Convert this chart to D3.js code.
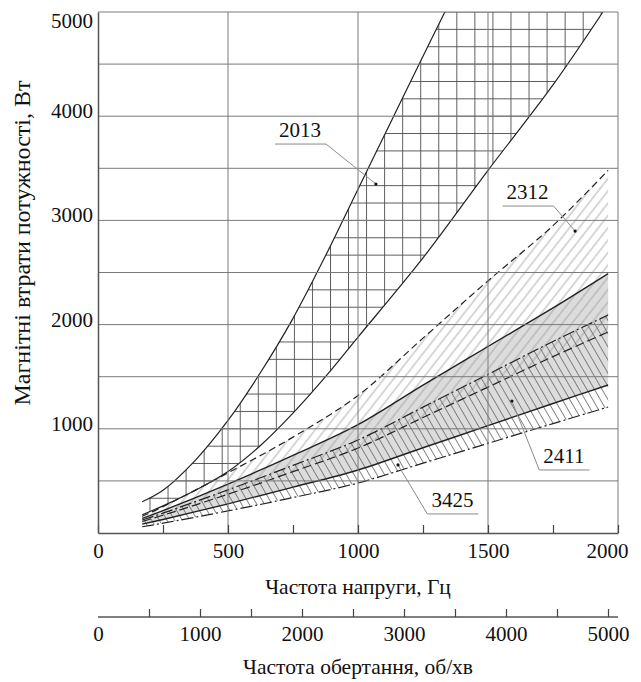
<!DOCTYPE html>
<html><head><meta charset="utf-8">
<script src="https://cdn.jsdelivr.net/npm/d3@7"></script>
<style>body{margin:0;background:#fff} text{font-family:"Liberation Serif","Times New Roman",serif;fill:#111}</style>
</head><body><svg id="c" width="641" height="682"></svg>
<script>
// ---------- data ----------
const freqTicks = [0,500,1000,1500,2000];
const freqMinor = [0,250,500,750,1000,1250,1500,1750,2000];
const rpmTicks = [0,1000,2000,3000,4000,5000];
const rpmMinor = [0,500,1000,1500,2000,2500,3000,3500,4000,4500,5000];
const powerTicks = [1000,2000,3000,4000,5000];
const powerGrid = [500,1000,1500,2000,2500,3000,3500,4000,4500];
const freqGrid = [500,1000,1500];

const s2013Upper = [[170,300],[250,410],[375,700],[500,1080],[625,1540],[750,2060],[875,2660],[1000,3300],[1125,3937],[1250,4575],[1340,5030]];
const s2013Lower = [[170,175],[250,260],[375,410],[500,590],[625,840],[750,1150],[875,1500],[1000,1880],[1250,2640],[1500,3480],[1750,4300],[1942,5000]];
const freq = [170,250,500,750,1000,1250,1500,1750,1962];
const s2312Upper = [160,253,577,920,1320,1870,2420,2950,3480];
const s2312Lower = [110,170,372,589,815,1108,1400,1693,1929];
const s2411Upper = [140,215,470,745,1040,1420,1790,2160,2490];
const s2411Lower = [85,130,280,440,605,818,1030,1243,1420];
const s3425Upper = [125,191,414,649,893,1208,1523,1838,2092];
const s3425Lower = [60,94,212,340,480,670,860,1050,1209];

const labelNames = ["2013","2312","2411","3425"];
const labelAt = [[777,3800],[1652,3205],[1792,672],[1363,250]];
const pointerAt = [[1069,3349],[1835,2898],[1592,1267],[1154,653]];
const leaderSide = ["right","right","left","left"];

// ---------- scales ----------
const x = d3.scaleLinear().domain([0,2000]).range([98,618]);
const y = d3.scaleLinear().domain([0,5000]).range([533,12]);
const xr = d3.scaleLinear().domain([0,5000]).range([98,608]);

const svg = d3.select("#c");
const defs = svg.append("defs");
defs.append("clipPath").attr("id","plot").append("rect")
  .attr("x",x(0)).attr("y",y(5000)).attr("width",x(2000)-x(0)).attr("height",y(0)-y(5000));

// cross hatch for 2013
const gw = 18.05, gh = (y(0)-y(5000))/30;
const pg = defs.append("pattern").attr("id","hatch2013").attr("patternUnits","userSpaceOnUse")
  .attr("x",149.5).attr("y",y(5000)-0.5).attr("width",gw).attr("height",gh);
pg.append("path").attr("d",`M0,0.5H${gw}M0.5,0V${gh}`).attr("stroke","#4a4a4a").attr("stroke-width",0.9).attr("fill","none");

function diag(id, angle, p, color, w){
  const pt = defs.append("pattern").attr("id",id).attr("patternUnits","userSpaceOnUse")
    .attr("width",p).attr("height",20).attr("patternTransform",`rotate(${angle})`);
  pt.append("line").attr("x1",p/2).attr("x2",p/2).attr("y1",0).attr("y2",20)
    .attr("stroke",color).attr("stroke-width",w);
}
diag("hatch2312", 38, 7.6, "#9a9a9a", 0.8);
diag("hatch3425", -30, 6.6, "#666", 0.8);

const line = d3.line().x(d=>x(d[0])).y(d=>y(d[1])).curve(d3.curveCatmullRom.alpha(0.5));
const pairs = arr => freq.map((f,i)=>[f,arr[i]]);
function band(up, lo){ return line(up) + line(lo.slice().reverse()).replace(/^M/,"L") + "Z"; }

const plot = svg.append("g").attr("clip-path","url(#plot)");

// fills
plot.append("path").attr("d",band(pairs(s2411Upper),pairs(s2411Lower))).attr("fill","#dcdcdc");
plot.append("path").attr("d",band(s2013Upper,s2013Lower)).attr("fill","url(#hatch2013)");
plot.append("path").attr("d",band(pairs(s2312Upper),pairs(s2312Lower))).attr("fill","url(#hatch2312)");
plot.append("path").attr("d",band(pairs(s3425Upper),pairs(s3425Lower))).attr("fill","url(#hatch3425)");

// grid
const grid = svg.append("g").attr("stroke","#7a7a7a").attr("stroke-width",1);
grid.selectAll(".gy").data(powerGrid).join("line")
  .attr("x1",x(0)).attr("x2",x(2000)).attr("y1",d=>y(d)).attr("y2",d=>y(d));
grid.selectAll(".gx").data(freqGrid).join("line")
  .attr("y1",y(0)).attr("y2",y(5000)).attr("x1",d=>x(d)).attr("x2",d=>x(d));

// curves
const curves = [
  {d:s2013Upper, dash:null, w:1.2},
  {d:s2013Lower, dash:null, w:1.2},
  {d:pairs(s2312Upper), dash:"7,4", w:1.2},
  {d:pairs(s2312Lower), dash:"9,4", w:1.2},
  {d:pairs(s2411Upper), dash:null, w:1.4},
  {d:pairs(s2411Lower), dash:null, w:1.4},
  {d:pairs(s3425Upper), dash:"12,3,2,3", w:1.2},
  {d:pairs(s3425Lower), dash:"12,3,2,3", w:1.2}
];
plot.selectAll(".curve").data(curves).join("path")
  .attr("d",c=>line(c.d)).attr("fill","none").attr("stroke","#222")
  .attr("stroke-width",c=>c.w).attr("stroke-dasharray",c=>c.dash);

// frame top/right
svg.append("line").attr("x1",x(0)).attr("x2",x(2000)).attr("y1",y(5000)).attr("y2",y(5000)).attr("stroke","#7a7a7a");
svg.append("line").attr("x1",x(2000)).attr("x2",x(2000)).attr("y1",y(0)).attr("y2",y(5000)).attr("stroke","#7a7a7a");

const fs = "21px";
// bottom axis
const ax = svg.append("g").attr("transform",`translate(0,${y(0)})`)
  .call(d3.axisBottom(x).tickValues(freqMinor).tickSize(-8).tickSizeOuter(0)
    .tickFormat(d=>freqTicks.includes(d)?d3.format("d")(d):""));
ax.select(".domain").attr("stroke","#555").attr("stroke-width",1.5);
ax.selectAll(".tick line").attr("stroke","#444").attr("stroke-width",1.2);
ax.selectAll(".tick text").attr("y",25).attr("dy",null).attr("x",d=>d===2000?-11:0).style("font-size",fs)
  .style("font-family","Liberation Serif").attr("fill","#111");

// left axis
const ay = svg.append("g").attr("transform",`translate(${x(0)},0)`)
  .call(d3.axisLeft(y).tickValues(powerTicks).tickSize(0).tickPadding(5).tickFormat(d3.format("d")));
ay.select(".domain").attr("stroke","#555").attr("stroke-width",1.5);
ay.selectAll(".tick text").attr("dy",null).attr("y",d=>d===5000?15:1.5)
  .style("font-size",fs).style("font-family","Liberation Serif").attr("fill","#111");

// second axis (rpm)
const ar = svg.append("g").attr("transform","translate(0,617)")
  .call(d3.axisBottom(xr).tickValues(rpmMinor).tickSize(-8).tickSizeOuter(0)
    .tickFormat(d=>rpmTicks.includes(d)?d3.format("d")(d):""));
ar.select(".domain").attr("d",`M${xr(0)},0H${x(2000)}`).attr("stroke","#555").attr("stroke-width",1.5);
ar.selectAll(".tick").filter(d=>d===0).select("line").remove();
ar.selectAll(".tick line").attr("stroke","#444").attr("stroke-width",1.2);
ar.selectAll(".tick text").attr("y",24).attr("dy",null).style("font-size",fs)
  .style("font-family","Liberation Serif").attr("fill","#111");

// titles
svg.append("text").attr("x",358).attr("y",594).attr("text-anchor","middle").style("font-size","21.5px").text("Частота напруги, Гц");
svg.append("text").attr("x",358).attr("y",674).attr("text-anchor","middle").style("font-size","21.5px").text("Частота обертання, об/хв");
svg.append("text").attr("transform","translate(30,243) rotate(-90)").attr("text-anchor","middle").style("font-size","24px").text("Магнітні втрати потужності, Вт");

// band labels
labelNames.forEach((n,i)=>{
  const tx = x(labelAt[i][0]), ty = y(labelAt[i][1]);
  const t = svg.append("text").attr("x",tx).attr("y",ty).attr("text-anchor","middle").style("font-size","21px").text(n);
  const w = t.node().getComputedTextLength();
  const x0 = tx - w/2 - 4, x1 = tx + w/2 + 5, uy = ty + 7;
  const px = x(pointerAt[i][0]), py = y(pointerAt[i][1]);
  const ex = leaderSide[i]==="right" ? x1 : x0;
  svg.append("path").attr("d",`M${x0},${uy}H${x1}M${ex},${uy}L${px},${py}`)
    .attr("fill","none").attr("stroke","#8a8a8a").attr("stroke-width",1);
  svg.append("circle").attr("cx",px).attr("cy",py).attr("r",1.6).attr("fill","#111");
});
</script></body></html>
